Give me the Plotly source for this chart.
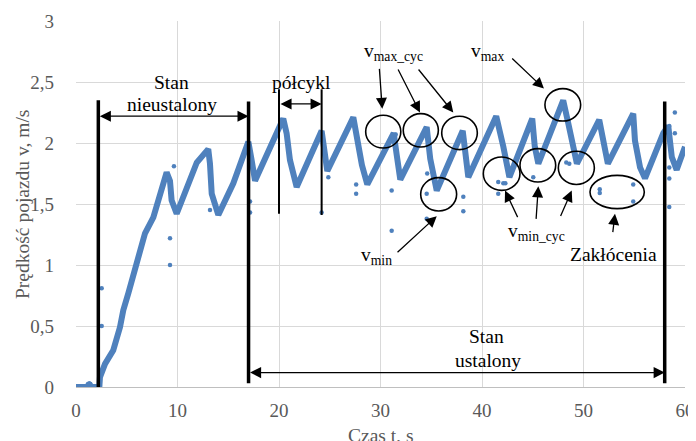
import plotly.graph_objects as go

# ---- data ----
time_s = [0, 1.1, 1.3, 1.5, 2.3, 2.36, 2.86, 3.67, 4.33, 4.66, 5.16, 5.98, 6.8, 7.62, 8.28,
          8.93, 9.26, 9.42, 9.92, 10.9, 11.9, 13.03, 13.2, 13.37, 14.02, 15.5, 16.98, 17.3,
          17.64, 20.42, 20.75, 21.08, 21.74, 24.2, 24.76, 27.32, 27.65, 28.17, 28.7, 31.3,
          31.6, 31.95, 34.55, 34.9, 35.54, 38.1, 38.65, 41.4, 42.1, 42.7, 44.95, 45.2, 45.55,
          48.0, 48.5, 49.35, 51.55, 51.95, 52.4, 54.9, 55.07, 55.57, 56.06, 57.86, 58.35,
          58.7, 59.18, 60]
speed_ms = [0, 0, 0.03, 0, 0, 0.08, 0.19, 0.30, 0.49, 0.63, 0.77, 1.04, 1.26, 1.39, 1.56,
            1.76, 1.69, 1.53, 1.42, 1.64, 1.84, 1.95, 1.83, 1.585, 1.41, 1.67, 2.01, 1.86,
            1.69, 2.2, 2.08, 1.86, 1.64, 2.1, 1.77, 2.21, 2.06, 1.82, 1.66, 2.08,
            1.9, 1.70, 2.13, 1.87, 1.61, 2.10, 1.72, 2.22, 1.97, 1.72, 2.2, 1.97, 1.83,
            2.35, 2.16, 1.83, 2.19, 2.02, 1.83, 2.24, 2.02, 1.8, 1.71, 2.08, 2.14,
            1.885, 1.78, 1.97]

outlier_t = [1.31, 2.53, 2.53, 9.26, 9.26, 9.65, 13.2, 17.15, 17.15, 24.2, 24.86, 27.6, 27.6,
             31.1, 31.1, 31.5, 34.55, 34.55, 34.6, 38.16, 38.16, 41.6, 41.6, 42.1, 42.3,
             45.05, 48.3, 48.6, 51.6, 51.6, 54.9, 54.9, 58.45, 58.45, 58.45, 58.45, 59.0, 59.0]
outlier_v = [0.03, 0.81, 0.50, 1.22, 1.00, 1.81, 1.45, 1.43, 1.52, 1.43, 1.72, 1.66, 1.585,
             1.61, 1.28, 2.07, 1.585, 1.38, 1.75, 1.56, 1.44, 1.68, 1.585, 1.67, 1.67,
             1.72, 1.84, 1.83, 1.62, 1.59, 1.66, 1.52, 1.475, 1.71, 1.8, 2.14, 2.25, 2.08]

x_ticks = [0, 10, 20, 30, 40, 50, 60]
y_ticks = [0, 0.5, 1, 1.5, 2, 2.5, 3]
y_ticktext = ["0", "0,5", "1", "1,5", "2", "2,5", "3"]

BLUE = "#4f81bd"
FONT = "Liberation Serif, Times New Roman, serif"
GRAY = "#595959"

fig = go.Figure()
fig.add_trace(go.Scatter(x=time_s, y=speed_ms, mode="lines",
                         line=dict(color=BLUE, width=6), hoverinfo="skip"))
fig.add_trace(go.Scatter(x=outlier_t, y=outlier_v, mode="markers",
                         marker=dict(color=BLUE, size=4.5), hoverinfo="skip"))

shapes = []
# vertical markers (x, y0, y1, width)
vlines = [(2.2, -0.05, 2.35, 3.5), (17.0, 0.03, 2.34, 3.5), (20.0, 1.42, 2.44, 2),
          (24.2, 1.41, 2.44, 2), (58.0, 0.03, 2.34, 3.5)]
for x, y0, y1, w in vlines:
    shapes.append(dict(type="line", xref="x", yref="y", x0=x, x1=x, y0=y0, y1=y1,
                       line=dict(color="black", width=w), layer="above"))
# ellipses (t0, t1, v0, v1)
ellipses = [(28.54, 32.0, 1.959, 2.227), (32.24, 35.7, 1.967, 2.241), (36.03, 39.54, 1.946, 2.219),
            (46.2, 49.72, 2.18, 2.446), (33.96, 37.5, 1.443, 1.716), (40.13, 43.74, 1.612, 1.885),
            (43.74, 47.26, 1.68, 1.954), (47.52, 51.07, 1.66, 1.932), (50.64, 55.99, 1.462, 1.735)]
for x0, x1, y0, y1 in ellipses:
    shapes.append(dict(type="circle", xref="x", yref="y", x0=x0, x1=x1, y0=y0, y1=y1,
                       line=dict(color="black", width=1.6), layer="above"))

ann = []
# double arrows (x_head, x_tail, y)
for xa, xb, y in [(17.0, 2.2, 2.22), (24.2, 20.0, 2.32), (58.0, 17.0, 0.118)]:
    ann.append(dict(x=xa, y=y, ax=xb, ay=y, xref="x", yref="y", axref="x", ayref="y",
                    text="", showarrow=True, arrowhead=2, startarrowhead=2, arrowside="end+start",
                    arrowsize=1.7, startarrowsize=1.7, arrowwidth=1.3, arrowcolor="black"))
# single arrows (head_t, head_v, tail_t, tail_v)
single_arrows = [(30.17, 2.28, 29.88, 2.62), (33.89, 2.25, 31.66, 2.615), (37.17, 2.25, 33.63, 2.615),
                 (46.1, 2.446, 42.83, 2.705), (35.54, 1.40, 31.53, 1.093),
                 (42.27, 1.61, 43.58, 1.38), (45.55, 1.645, 45.32, 1.366), (48.84, 1.61, 47.68, 1.39),
                 (53.1, 1.42, 52.87, 1.257)]
for hx, hy, tx, ty in single_arrows:
    ann.append(dict(x=hx, y=hy, ax=tx, ay=ty, xref="x", yref="y", axref="x", ayref="y",
                    text="", showarrow=True, arrowhead=2, arrowsize=1.7, arrowwidth=1.3,
                    arrowcolor="black"))
# labels (t, v, text)
labels = [(9.42, 2.50, "Stan"), (9.42, 2.315, "nieustalony"), (22.24, 2.50, "półcykl"),
          (40.45, 0.41, "Stan"), (40.55, 0.22, "ustalony"), (52.94, 1.09, "Zakłócenia"),
          (31.3, 2.75, "v<sub>max_cyc</sub>"), (40.5, 2.75, "v<sub>max</sub>"),
          (29.6, 1.07, "v<sub>min</sub>"), (45.4, 1.27, "v<sub>min_cyc</sub>")]
for x, y, t in labels:
    ann.append(dict(x=x, y=y, xref="x", yref="y", text=t, showarrow=False,
                    font=dict(family=FONT, size=19.5, color="black")))
# axis titles
ann.append(dict(x=0.5, y=-0.132, xref="paper", yref="paper", text="Czas t, s", showarrow=False,
                xanchor="center", yanchor="middle", font=dict(family=FONT, size=19.5, color=GRAY)))
ann.append(dict(x=-0.0887, y=0.5, xref="paper", yref="paper", text="Prędkość pojazdu v, m/s",
                showarrow=False, textangle=-90, xanchor="center", yanchor="middle",
                font=dict(family=FONT, size=19.5, color=GRAY)))

# the page body adds an 8 px offset, so the figure is 8 px smaller and margins shifted
fig.update_layout(
    width=688, height=433, margin=dict(l=68, r=11, t=13, b=54),
    paper_bgcolor="white", plot_bgcolor="white", showlegend=False,
    shapes=shapes, annotations=ann,
    font=dict(family=FONT, size=19, color=GRAY),
    xaxis=dict(range=[0, 60], tickvals=x_ticks, showgrid=True, gridcolor="#d9d9d9", gridwidth=1,
               zeroline=False, showline=True, linecolor="#bfbfbf", linewidth=1, ticks="",
               automargin=False,
               ticklabelstandoff=6, tickfont=dict(family=FONT, size=19, color=GRAY)),
    yaxis=dict(range=[0, 3], tickvals=y_ticks, ticktext=y_ticktext, showgrid=True,
               gridcolor="#d9d9d9", gridwidth=1, zeroline=False, showline=False, ticks="",
               automargin=False,
               ticklabelstandoff=21, tickfont=dict(family=FONT, size=19, color=GRAY)),
)

fig.write_html("out.html")
